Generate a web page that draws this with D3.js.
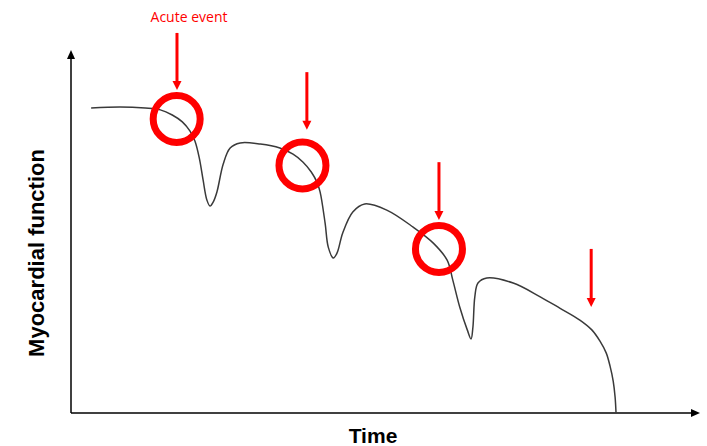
<!DOCTYPE html>
<html>
<head>
<meta charset="utf-8">
<script src="https://cdn.jsdelivr.net/npm/d3@7"></script>
<style>
  html, body { margin: 0; padding: 0; background: #fff; }
  svg { display: block; }
</style>
</head>
<body>
<script>
// ---- data (time 0–100, myocardial function 0–100, arbitrary units) ----
const curveTime = [3.2, 7.8, 11.8, 14.2, 16.1, 17.7, 18.9, 19.7, 20.4, 21.0, 21.6, 22.1, 22.6, 23.2, 24.2, 25.3, 26.9, 30.1, 33.2, 35.3, 36.9, 38.2, 39.1, 39.6, 40.4, 40.9, 41.7, 42.3, 43.2, 44.8, 46.7, 50.2, 54.4, 57.6, 59.8, 60.7, 61.8, 63.0, 63.6, 63.9, 64.2, 64.7, 66.1, 70.3, 74.6, 77.7, 80.9, 82.8, 84.1, 85.1, 85.7, 86.2, 86.5, 86.65];
const curveFunction = [84.0, 84.3, 84.0, 83.5, 82.1, 80.2, 77.7, 74.9, 70.2, 64.2, 58.7, 57.0, 58.1, 60.9, 68.6, 73.0, 74.4, 74.1, 73.0, 71.3, 69.1, 66.4, 63.6, 60.9, 52.3, 45.7, 42.7, 44.1, 49.6, 55.4, 57.6, 55.9, 51.2, 46.8, 42.1, 36.6, 29.2, 22.9, 20.4, 23.7, 32.0, 35.8, 37.2, 35.8, 32.0, 28.9, 25.6, 22.9, 19.8, 16.5, 12.9, 8.8, 4.4, 0];

// acute events: ring markers on the curve
const eventTime = [16.8, 36.8, 58.5];
const eventFunction = [81.0, 68.2, 45.2];

// red arrows (start level -> tip level)
const arrowTime = [16.85, 37.5, 58.5, 82.7];
const arrowFrom = [104.7, 93.9, 69.1, 45.2];
const arrowTo = [89.0, 78.0, 53.2, 29.2];

const annotationText = "Acute event";
const xTitle = "Time";
const yTitle = "Myocardial function";

// ---- layout ----
const W = 707, H = 446;
const svg = d3.select("body").append("svg").attr("width", W).attr("height", H);

const x = d3.scaleLinear().domain([0, 100]).range([71, 700]);
const y = d3.scaleLinear().domain([0, 100]).range([413, 50]);

// axes with arrowheads
const axisG = svg.append("g");
axisG.append("line")
  .attr("x1", x(0)).attr("y1", y(0)).attr("x2", x(0)).attr("y2", y(100) + 7)
  .attr("stroke", "#000").attr("stroke-width", 1.5);
axisG.append("path")
  .attr("d", `M${x(0)},${y(100)} L${x(0) - 4},${y(100) + 9} L${x(0) + 4},${y(100) + 9} Z`)
  .attr("fill", "#000");
axisG.append("line")
  .attr("x1", x(0)).attr("y1", y(0)).attr("x2", x(100) - 7).attr("y2", y(0))
  .attr("stroke", "#000").attr("stroke-width", 1.5);
axisG.append("path")
  .attr("d", `M${x(100)},${y(0)} L${x(100) - 9},${y(0) - 4} L${x(100) - 9},${y(0) + 4} Z`)
  .attr("fill", "#000");

// curve
const pts = curveTime.map((t, i) => [t, curveFunction[i]]);
const line = d3.line().x(d => x(d[0])).y(d => y(d[1])).curve(d3.curveCatmullRom.alpha(0.5));
svg.append("path")
  .attr("d", line(pts))
  .attr("fill", "none")
  .attr("stroke", "#3a3a3a")
  .attr("stroke-width", 1.5);

// rings
svg.selectAll("circle.ev")
  .data(eventTime.map((t, i) => [t, eventFunction[i]]))
  .join("circle")
  .attr("class", "ev")
  .attr("cx", d => x(d[0])).attr("cy", d => y(d[1]))
  .attr("r", 23.5)
  .attr("fill", "none")
  .attr("stroke", "#ff0000")
  .attr("stroke-width", 7);

// arrows
const arrows = svg.selectAll("g.arrow")
  .data(arrowTime.map((t, i) => ({ t, from: arrowFrom[i], to: arrowTo[i] })))
  .join("g").attr("class", "arrow");
arrows.append("line")
  .attr("x1", d => x(d.t)).attr("x2", d => x(d.t))
  .attr("y1", d => y(d.from)).attr("y2", d => y(d.to) - 8)
  .attr("stroke", "#ff0000").attr("stroke-width", 3);
arrows.append("path")
  .attr("d", d => `M${x(d.t)},${y(d.to)} L${x(d.t) - 4.5},${y(d.to) - 9} L${x(d.t) + 4.5},${y(d.to) - 9} Z`)
  .attr("fill", "#ff0000");

// annotation text
svg.append("text")
  .attr("x", 189).attr("y", 22)
  .attr("text-anchor", "middle")
  .attr("font-family", "'Open Sans', sans-serif")
  .attr("font-size", 14)
  .attr("fill", "#ff0000")
  .text(annotationText);

// axis titles
svg.append("text")
  .attr("x", 373).attr("y", 443)
  .attr("text-anchor", "middle")
  .attr("font-family", "'Liberation Sans', Arial, sans-serif")
  .attr("font-weight", "bold")
  .attr("font-size", 21)
  .attr("fill", "#000")
  .text(xTitle);

svg.append("text")
  .attr("transform", "translate(44,253) rotate(-90)")
  .attr("text-anchor", "middle")
  .attr("font-family", "'Liberation Sans', Arial, sans-serif")
  .attr("font-weight", "bold")
  .attr("font-size", 22)
  .attr("fill", "#000")
  .text(yTitle);
</script>
</body>
</html>
